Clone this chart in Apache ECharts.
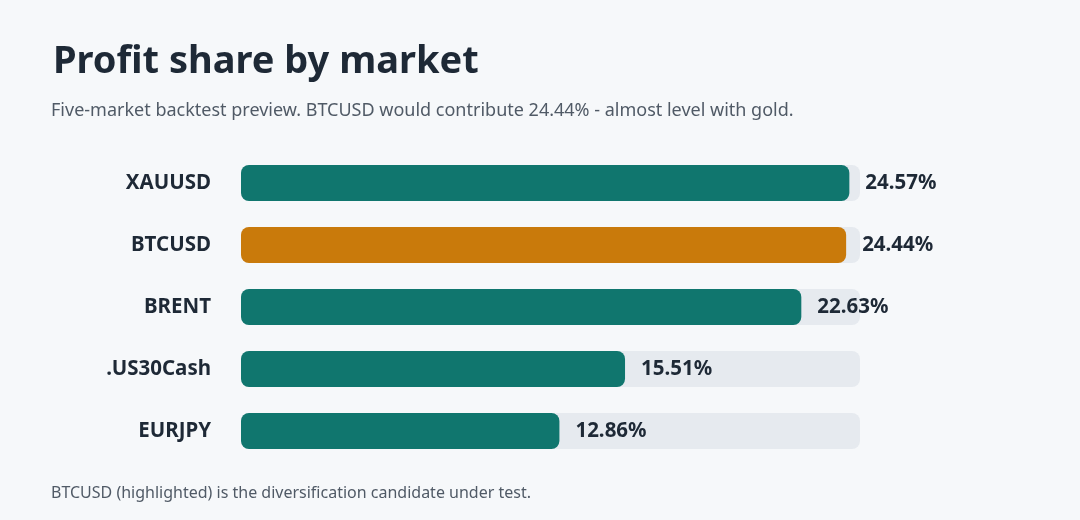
<!DOCTYPE html>
<html>
<head>
<meta charset="utf-8">
<script src="https://cdn.jsdelivr.net/npm/echarts@6/dist/echarts.min.js"></script>
<style>
  html, body { margin: 0; padding: 0; background: #f6f8fa; }
  #chart { width: 1080px; height: 520px; }
</style>
</head>
<body>
<div id="chart"></div>
<script>
// chart data
const markets = ['XAUUSD', 'BTCUSD', 'BRENT', '.US30Cash', 'EURJPY']
const shares = [24.57, 24.44, 22.63, 15.51, 12.86]
const highlight = 'BTCUSD'

const titleText = 'Profit share by market'
const subtitleText = 'Five-market backtest preview. BTCUSD would contribute 24.44% - almost level with gold.'
const noteText = 'BTCUSD (highlighted) is the diversification candidate under test.'

const FONT = '"Noto Sans", "Open Sans", sans-serif'
const TEAL = '#10766e'
const ORANGE = '#c97a0b'

const chart = echarts.init(document.getElementById('chart'), null, { renderer: 'canvas' })

chart.setOption({
  backgroundColor: '#f6f8fa',
  animation: false,
  textStyle: { fontFamily: FONT },
  title: [
    {
      text: titleText,
      left: 48,
      top: 38,
      textStyle: { fontSize: 38, fontWeight: 'bold', color: '#1e2936', fontFamily: FONT }
    },
    {
      text: subtitleText,
      left: 46,
      top: 97,
      textStyle: { fontSize: 18, fontWeight: 'normal', color: '#505a66', fontFamily: FONT }
    },
    {
      text: noteText,
      left: 46,
      top: 480,
      textStyle: { fontSize: 16, fontWeight: 'normal', color: '#505a66', fontFamily: FONT }
    }
  ],
  grid: {
    left: 241,
    right: 220,
    top: 152,
    bottom: 58,
    containLabel: false
  },
  xAxis: {
    type: 'value',
    min: 0,
    max: 25,
    show: false
  },
  yAxis: {
    type: 'category',
    inverse: true,
    data: markets,
    axisLine: { show: false },
    axisTick: { show: false },
    splitLine: { show: false },
    axisLabel: {
      margin: 30,
      fontSize: 20.5,
      fontWeight: 'bold',
      color: '#1e2936',
      fontFamily: FONT,
      padding: [4, 0, 0, 0]
    }
  },
  series: [
    {
      type: 'bar',
      barWidth: 36,
      showBackground: true,
      backgroundStyle: { color: '#e6eaef', borderRadius: 8 },
      data: shares.map((v, i) => ({
        value: v,
        itemStyle: { color: markets[i] === highlight ? ORANGE : TEAL }
      })),
      itemStyle: { borderRadius: 8 },
      label: {
        show: true,
        position: 'right',
        distance: 16,
        fontSize: 20.5,
        fontWeight: 'bold',
        color: '#1e2936',
        fontFamily: FONT,
        padding: [4, 0, 0, 0],
        formatter: (p) => p.value.toFixed(2) + '%'
      }
    }
  ]
})

window.addEventListener('resize', () => chart.resize())
</script>
</body>
</html>
